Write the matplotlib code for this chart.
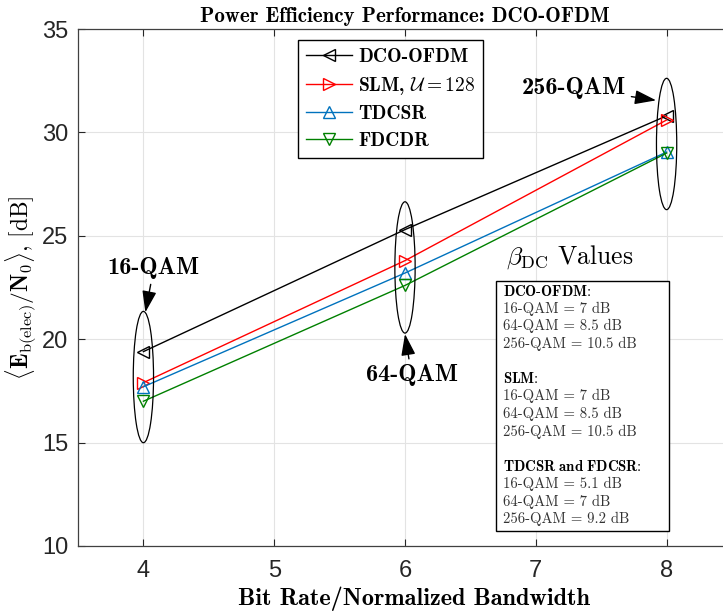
import matplotlib
matplotlib.use("Agg")
import matplotlib.pyplot as plt
from matplotlib.patches import Ellipse, Rectangle

plt.rcParams["mathtext.fontset"] = "cm"
plt.rcParams["axes.unicode_minus"] = False

# Data
bit_rate = [4, 6, 8]
dco_ofdm = [19.4, 25.3, 30.8]
slm = [17.9, 23.8, 30.6]
tdcsr = [17.7, 23.2, 29.05]
fdcdr = [17.0, 22.6, 29.0]

series_labels = ["DCO-OFDM", r"SLM, $\mathcal{U} = 128$", "TDCSR", "FDCDR"]
qam_labels = ["16-QAM", "64-QAM", "256-QAM"]

beta_lines = [
    (r"$\mathbf{DCO}$-$\mathbf{OFDM}$:", ["16-QAM = 7 dB", "64-QAM = 8.5 dB", "256-QAM = 10.5 dB"]),
    (r"$\mathbf{SLM}$:", ["16-QAM = 7 dB", "64-QAM = 8.5 dB", "256-QAM = 10.5 dB"]),
    (r"$\mathbf{TDCSR\ and\ FDCSR}$:", ["16-QAM = 5.1 dB", "64-QAM = 7 dB", "256-QAM = 9.2 dB"]),
]

fig = plt.figure(figsize=(7.23, 6.14), dpi=100)
ax = fig.add_axes([78 / 723, 1 - 546 / 614, 654 / 723, 517 / 614])

styles = [
    (dco_ofdm, "k", "<"),
    (slm, "#ff0000", ">"),
    (tdcsr, "#0072BD", "^"),
    (fdcdr, "#008000", "v"),
]
for (vals, color, marker), label in zip(styles, series_labels):
    ax.plot(bit_rate, vals, color=color, marker=marker, markersize=9,
            markerfacecolor="none", markeredgewidth=1.0, linewidth=1.0,
            label=label)

ax.set_xlim(3.5, 8.5)
ax.set_ylim(10, 35)
ax.set_xticks([4, 5, 6, 7, 8])
ax.set_yticks([10, 15, 20, 25, 30, 35])
ax.grid(True, color="#e3e3e3", linewidth=0.8)
ax.set_axisbelow(True)
ax.tick_params(direction="in", top=True, right=True, length=5,
               labelsize=17, colors="#262626")
ax.tick_params(axis="x", pad=10)
ax.tick_params(axis="y", pad=7)
for lab in ax.get_xticklabels() + ax.get_yticklabels():
    lab.set_family("Liberation Sans")
for sp in ax.spines.values():
    sp.set_color("#404040")
    sp.set_linewidth(0.9)

ax.set_title("Power Efficiency Performance: DCO-OFDM", family="cmb10",
             fontsize=15, pad=5)
ax.set_xlabel("Bit Rate/Normalized Bandwidth", family="cmb10", fontsize=17.5,
              labelpad=3)
ax.xaxis.label.set_x((414 - 78) / 654)
ax.set_ylabel(r"$\langle\mathbf{E}_{\mathrm{b(elec)}}/\mathbf{N}_{\mathbf{0}}\rangle$, [dB]",
              family="cmr10", fontsize=16.8, labelpad=3)

# ellipses around each modulation order
ell_centres = [18.17, 23.47, 29.44]
for xc, yc in zip(bit_rate, ell_centres):
    ax.add_patch(Ellipse((xc, yc), 0.155, 6.35, fill=False, edgecolor="k",
                         linewidth=0.9, zorder=5))

arrow = dict(arrowstyle="-|>,head_length=0.75,head_width=0.25", color="k",
             linewidth=1.0, shrinkA=2, shrinkB=0)
ax.annotate(qam_labels[0], xy=(4.015, 21.3), xytext=(4.08, 23.45),
            ha="center", va="center", family="cmb10", fontsize=17.5,
            arrowprops=arrow)
ax.annotate(qam_labels[1], xy=(6.0, 20.25), xytext=(6.05, 18.25),
            ha="center", va="center", family="cmb10", fontsize=17.5,
            arrowprops=arrow)
ax.annotate(qam_labels[2], xy=(7.92, 31.55), xytext=(7.29, 32.15),
            ha="center", va="center", family="cmb10", fontsize=17.5,
            arrowprops=arrow)

ax.text(7.26, 23.95, r"$\beta_{\mathrm{DC}}$ Values", family="cmr10",
        fontsize=18.5, ha="center", va="center")

# beta box
bx0, bx1 = (496 - 78) / 654, (669 - 78) / 654
by0, by1 = (546 - 531) / 517, (546 - 281) / 517
ax.add_patch(Rectangle((bx0, by0), bx1 - bx0, by1 - by0, transform=ax.transAxes,
                       facecolor="white", edgecolor="k", linewidth=1.0, zorder=6))
step = 17.55 / 517
y = (546 - 291) / 517
for head, rows in beta_lines:
    ax.text(0.65, y, head, family="cmr10", fontsize=10.6, va="center",
            transform=ax.transAxes, zorder=7)
    y -= step
    for r in rows:
        ax.text(0.65, y, r, family="cmr10", fontsize=10.6, va="center",
                color="#333333", transform=ax.transAxes, zorder=7)
        y -= step
    y -= step

leg = ax.legend(loc="upper left", bbox_to_anchor=((298 - 78) / 654, (546 - 40) / 517),
                prop={"family": "cmb10", "size": 14}, handlelength=2.4,
                labelspacing=0.45, borderpad=0.4, handletextpad=0.3,
                borderaxespad=0, fancybox=False, framealpha=1, edgecolor="k")
leg.get_frame().set_linewidth(1.0)

fig.savefig("out.png", dpi=100)
